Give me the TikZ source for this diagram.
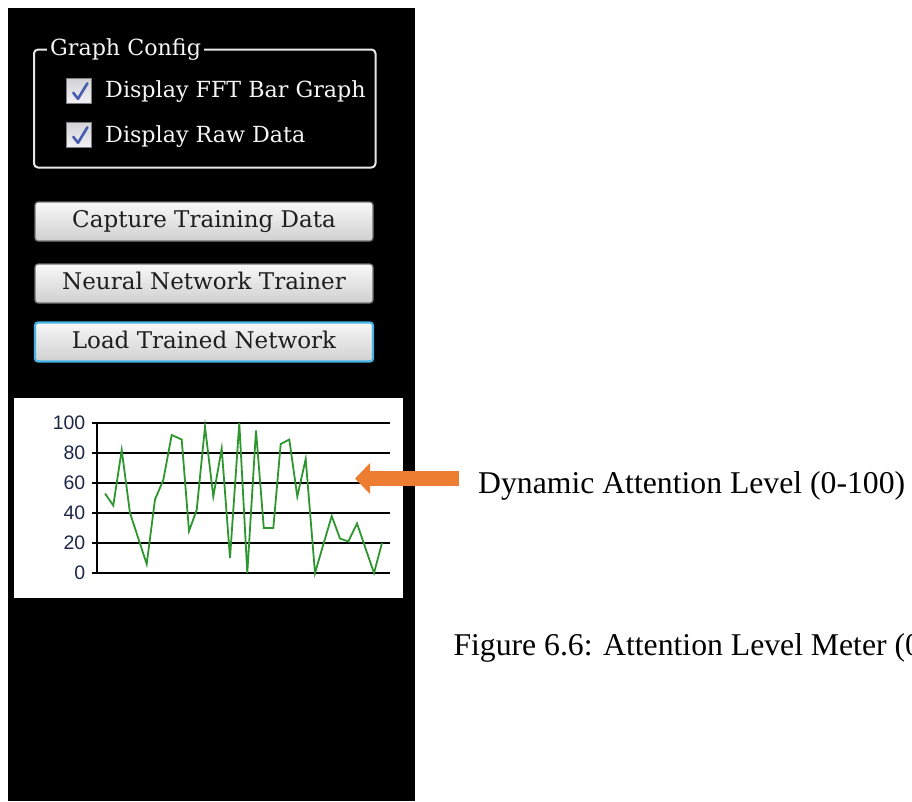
\documentclass[tikz,border=0pt]{standalone}
\usepackage{fontspec}
\setmainfont{Liberation Serif}
\newfontfamily\uifont{DejaVu Serif}
\newfontfamily\axisfont{Liberation Sans}
\usetikzlibrary{arrows.meta}

\definecolor{frameline}{RGB}{232,232,232}
\definecolor{uitextcol}{RGB}{245,245,245}
\definecolor{btnborder}{RGB}{112,112,112}
\definecolor{btntop}{RGB}{248,248,248}
\definecolor{btnbottom}{RGB}{208,208,208}
\definecolor{btntext}{RGB}{30,30,30}
\definecolor{focusblue}{RGB}{70,180,230}
\definecolor{checkblue}{RGB}{72,92,175}
\definecolor{boxborder}{RGB}{125,125,125}
\definecolor{boxtop}{RGB}{210,210,214}
\definecolor{boxbottom}{RGB}{242,242,246}
\definecolor{tracegreen}{RGB}{46,150,46}
\definecolor{axislabel}{RGB}{30,40,72}
\definecolor{calloutorange}{RGB}{237,125,49}

\begin{document}
\begin{tikzpicture}[x=1pt,y=-1pt,
  uitext/.style={font=\uifont\fontsize{22.2}{26}\selectfont, text=uitextcol,
    inner sep=0pt, anchor=base west},
  button/.style={rectangle, rounded corners=3pt, draw=btnborder, line width=1.2pt,
    top color=btntop, bottom color=btnbottom,
    minimum width=338pt, minimum height=39pt, inner sep=0pt,
    text height=17.5pt, text depth=5.5pt,
    font=\uifont\fontsize{23}{28}\selectfont, text=btntext},
  checkbox/.style={rectangle, minimum size=25pt, inner sep=0pt,
    draw=boxborder, line width=1.6pt, top color=boxtop, bottom color=boxbottom},
  checkstroke/.style={draw=checkblue, line width=2.6pt, line cap=round, line join=round},
  gridline/.style={draw=black, line width=1.8pt},
  ticklabel/.style={font=\axisfont\fontsize{19.5}{22}\selectfont, text=axislabel,
    inner sep=0pt, anchor=east},
  trace/.style={draw=tracegreen, line width=1.8pt, line join=miter},
  callout/.style={draw=calloutorange, line width=14.5pt,
    -{Triangle[length=15pt,width=30pt]}},
  bodytext/.style={font=\fontsize{31.7}{38}\selectfont, inner sep=0pt, anchor=base west}
]
\useasboundingbox (0,0) rectangle (912,801);
\fill[white] (0,0) rectangle (912,801);

% application side panel
\fill[black] (8,8) rectangle (415,801);

% "Graph Config" group box
\node[draw=frameline, line width=2pt, rounded corners=4pt, minimum width=341.5pt,
      minimum height=118pt, inner sep=0pt] (graphcfg) at (204.75,108.5) {};
\node[uitext, fill=black, inner xsep=3pt, inner ysep=2pt] (cfgtitle) at (47,55) {Graph Config};

% check boxes
\node[checkbox] (cb1) at (78.8,90.8) {};
\node[checkbox] (cb2) at (78.8,134.8) {};
\foreach \cb in {cb1,cb2}{
  \draw[checkstroke] ([shift={(-5.5,2)}]\cb.center) -- ([shift={(-0.8,8)}]\cb.center)
                     -- ([shift={(8.6,-7.5)}]\cb.center);
}
\node[uitext] (fftlabel) at (105,97.5) {Display FFT Bar Graph};
\node[uitext] (rawlabel) at (105,142) {Display Raw Data};

% buttons
\node[button] (capture) at (204,221.5) {Capture Training Data};
\node[button] (trainer) at (204,283.5) {Neural Network Trainer};
\node[button, draw=focusblue, line width=2.2pt] (load) at (204,342) {Load Trained Network};

% attention level chart
\node[fill=white, minimum width=389pt, minimum height=200pt, inner sep=0pt] (chart) at (208.5,498) {};
\foreach \v in {0,20,40,60,80,100}{
  \draw[gridline] (92,{573-1.5*\v}) -- (390,{573-1.5*\v});
  \node[ticklabel] (tick\v) at (85.5,{573-1.5*\v}) {\v};
}
\draw[gridline] (97,422) -- (97,574);
\begin{scope}[shift={(0,573)}, y=1.5pt]
  \draw[trace] plot coordinates {
    (105,53) (113.3,45) (121.7,82) (130,40) (146.7,6) (155,49) (163.3,62)
    (171.7,92) (181.7,89) (189,28) (196.7,42) (205,97.5) (213.3,51) (221.7,83)
    (230,10) (239.3,100) (247.3,0) (256,95) (263.8,30) (273.3,30) (280.7,86)
    (289.3,89) (297.3,51) (305.7,76) (315,0) (331.7,38) (340,23) (348.3,21)
    (357,33) (374,0) (382,20)};
\end{scope}

% callout arrow and text
\node[bodytext] (attn) at (478,493) {Dynamic Attention Level (0-100)};
\coordinate (calloutstart) at (459,478.5);
\coordinate (callouttip) at (355,478.5);
\draw[callout] (calloutstart) -- (callouttip);

\node[bodytext] (caption) at (453.3,655.7) {Figure 6.6: Attention Level Meter (0};
\end{tikzpicture}
\end{document}
